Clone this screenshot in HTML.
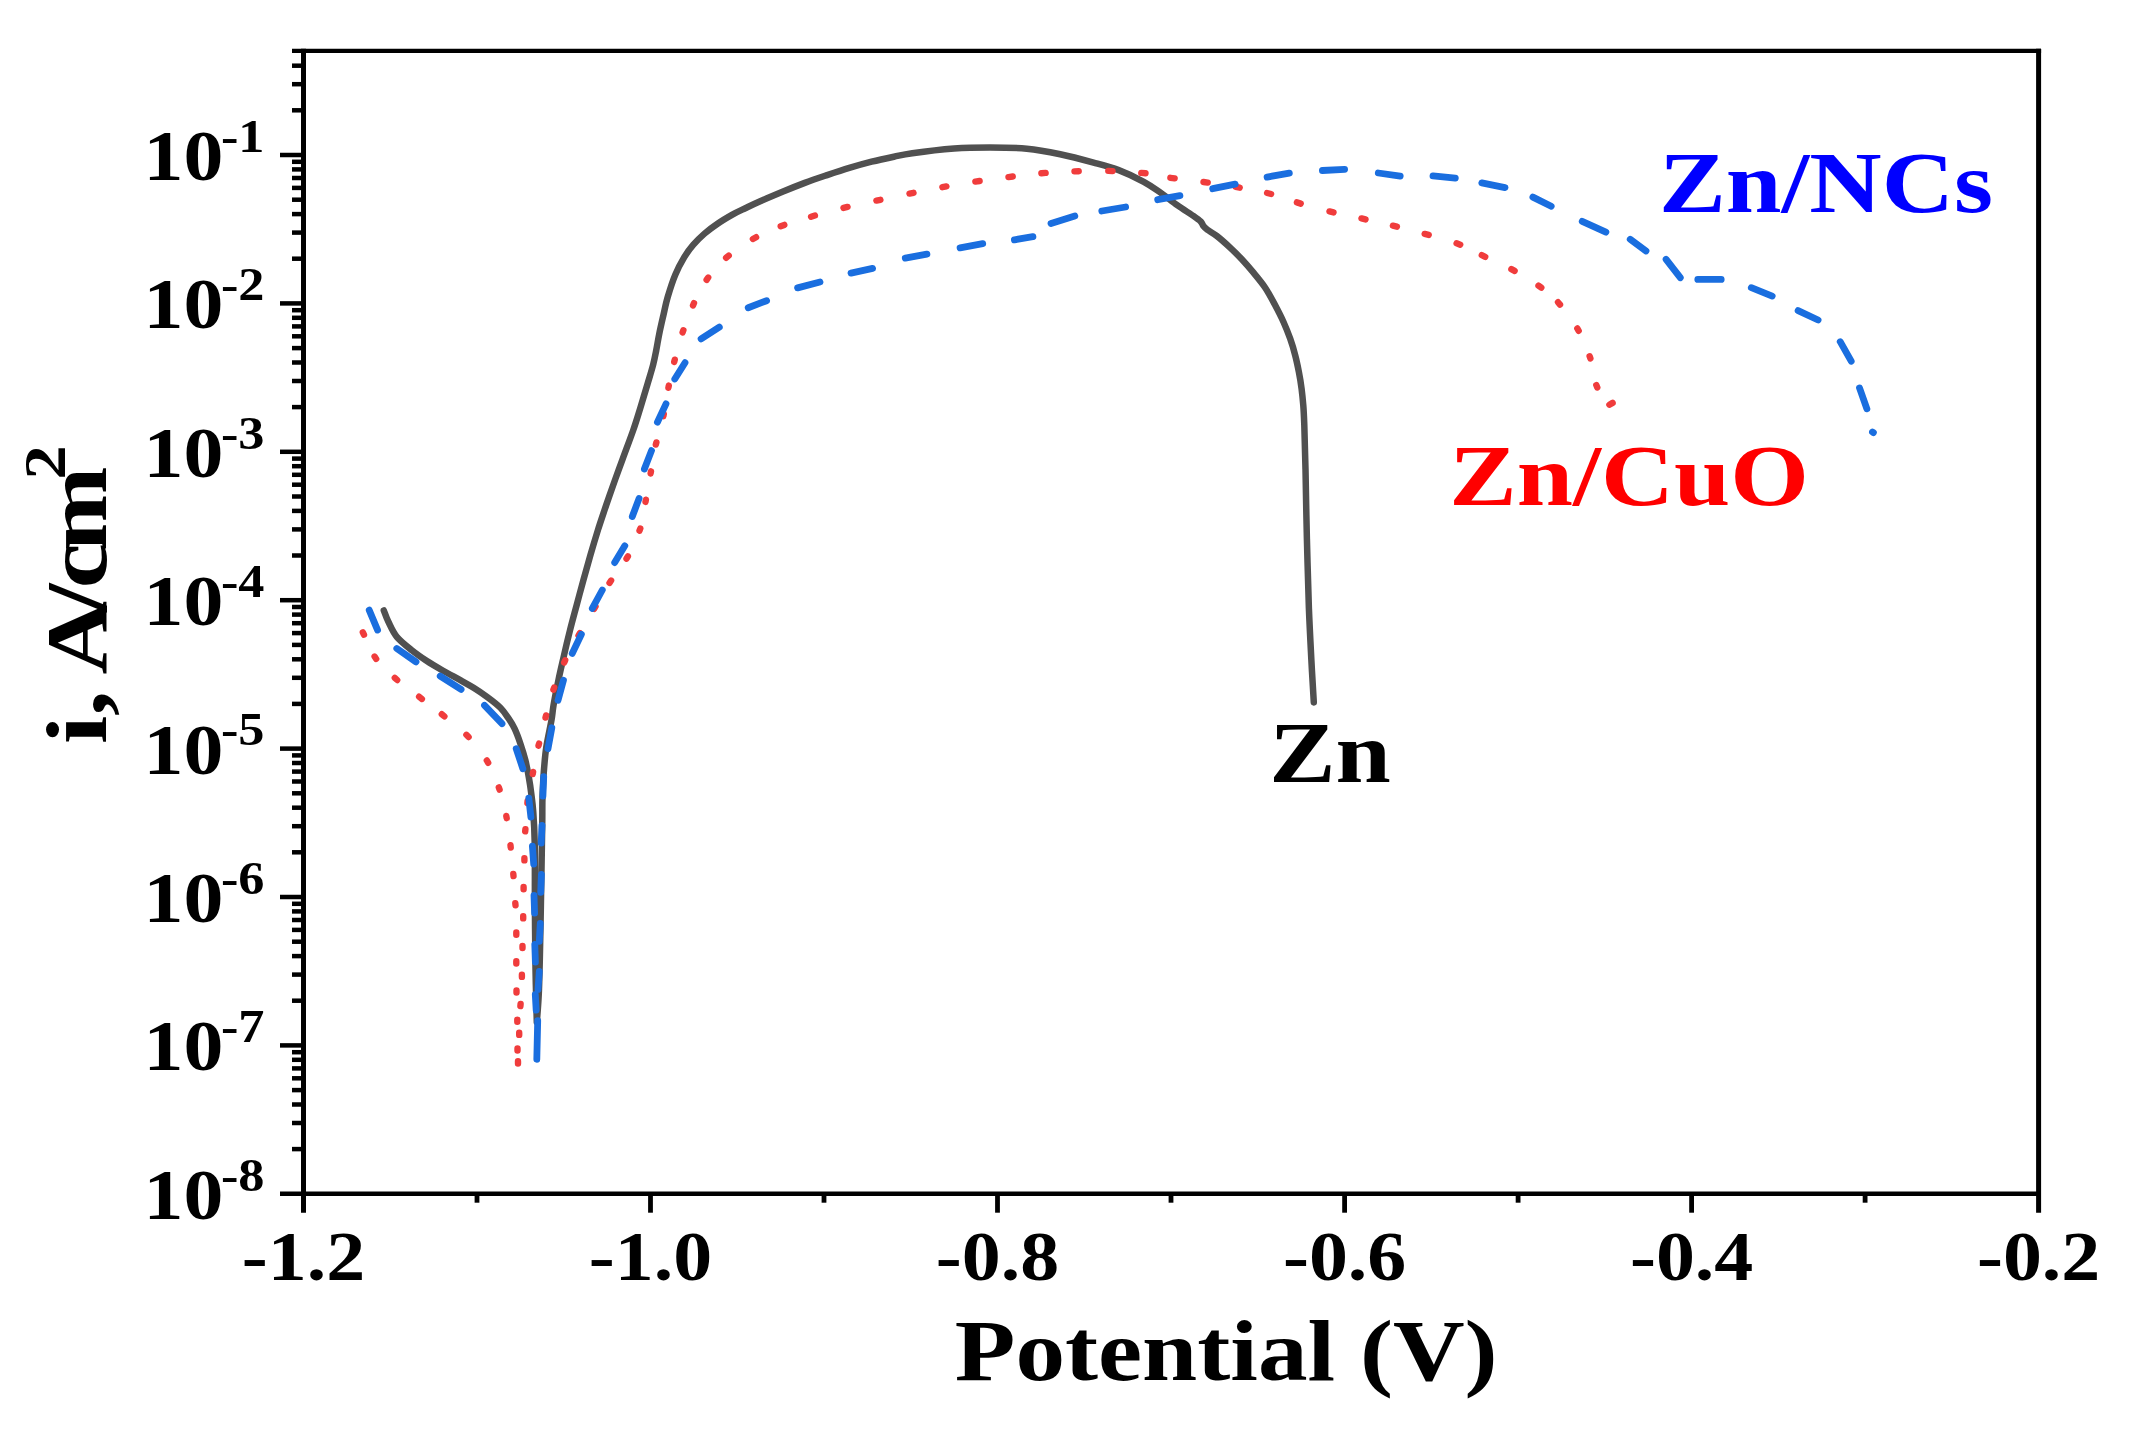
<!DOCTYPE html>
<html lang="en"><head><meta charset="utf-8"><title>Polarization curves</title>
<style>html,body{margin:0;padding:0;background:#fff}svg{display:block}text{font-family:"Liberation Serif","Times New Roman",serif;font-weight:bold}</style></head><body>
<svg width="2155" height="1437" viewBox="0 0 2155 1437">
<rect width="2155" height="1437" fill="#fff"/>
<g stroke="#000" fill="none" stroke-linecap="butt">
<line x1="303.5" y1="48.8" x2="303.5" y2="1212.7" stroke-width="5"/>
<line x1="2038.6" y1="48.8" x2="2038.6" y2="1212.7" stroke-width="5"/>
<line x1="292.0" y1="50.8" x2="2041.1" y2="50.8" stroke-width="4.3"/>
<line x1="280.0" y1="1193.7" x2="2040.9" y2="1193.7" stroke-width="4.6"/>
<line x1="650.5" y1="1193.7" x2="650.5" y2="1212.7" stroke-width="4.8"/>
<line x1="997.5" y1="1193.7" x2="997.5" y2="1212.7" stroke-width="4.8"/>
<line x1="1344.6" y1="1193.7" x2="1344.6" y2="1212.7" stroke-width="4.8"/>
<line x1="1691.6" y1="1193.7" x2="1691.6" y2="1212.7" stroke-width="4.8"/>
<line x1="477.0" y1="1193.7" x2="477.0" y2="1202.7" stroke-width="4.8"/>
<line x1="824.0" y1="1193.7" x2="824.0" y2="1202.7" stroke-width="4.8"/>
<line x1="1171.0" y1="1193.7" x2="1171.0" y2="1202.7" stroke-width="4.8"/>
<line x1="1518.1" y1="1193.7" x2="1518.1" y2="1202.7" stroke-width="4.8"/>
<line x1="1865.1" y1="1193.7" x2="1865.1" y2="1202.7" stroke-width="4.8"/>
<line x1="280.0" y1="155.0" x2="303.5" y2="155.0" stroke-width="4.5"/>
<line x1="280.0" y1="303.4" x2="303.5" y2="303.4" stroke-width="4.5"/>
<line x1="280.0" y1="451.8" x2="303.5" y2="451.8" stroke-width="4.5"/>
<line x1="280.0" y1="600.2" x2="303.5" y2="600.2" stroke-width="4.5"/>
<line x1="280.0" y1="748.6" x2="303.5" y2="748.6" stroke-width="4.5"/>
<line x1="280.0" y1="897.0" x2="303.5" y2="897.0" stroke-width="4.5"/>
<line x1="280.0" y1="1045.4" x2="303.5" y2="1045.4" stroke-width="4.5"/>
<line x1="292.0" y1="110.3" x2="303.5" y2="110.3" stroke-width="4.5"/>
<line x1="292.0" y1="84.2" x2="303.5" y2="84.2" stroke-width="4.5"/>
<line x1="292.0" y1="65.7" x2="303.5" y2="65.7" stroke-width="4.5"/>
<line x1="292.0" y1="258.7" x2="303.5" y2="258.7" stroke-width="4.5"/>
<line x1="292.0" y1="232.6" x2="303.5" y2="232.6" stroke-width="4.5"/>
<line x1="292.0" y1="214.1" x2="303.5" y2="214.1" stroke-width="4.5"/>
<line x1="292.0" y1="199.7" x2="303.5" y2="199.7" stroke-width="4.5"/>
<line x1="292.0" y1="187.9" x2="303.5" y2="187.9" stroke-width="4.5"/>
<line x1="292.0" y1="178.0" x2="303.5" y2="178.0" stroke-width="4.5"/>
<line x1="292.0" y1="169.4" x2="303.5" y2="169.4" stroke-width="4.5"/>
<line x1="292.0" y1="161.8" x2="303.5" y2="161.8" stroke-width="4.5"/>
<line x1="292.0" y1="407.1" x2="303.5" y2="407.1" stroke-width="4.5"/>
<line x1="292.0" y1="381.0" x2="303.5" y2="381.0" stroke-width="4.5"/>
<line x1="292.0" y1="362.5" x2="303.5" y2="362.5" stroke-width="4.5"/>
<line x1="292.0" y1="348.1" x2="303.5" y2="348.1" stroke-width="4.5"/>
<line x1="292.0" y1="336.3" x2="303.5" y2="336.3" stroke-width="4.5"/>
<line x1="292.0" y1="326.4" x2="303.5" y2="326.4" stroke-width="4.5"/>
<line x1="292.0" y1="317.8" x2="303.5" y2="317.8" stroke-width="4.5"/>
<line x1="292.0" y1="310.2" x2="303.5" y2="310.2" stroke-width="4.5"/>
<line x1="292.0" y1="555.5" x2="303.5" y2="555.5" stroke-width="4.5"/>
<line x1="292.0" y1="529.4" x2="303.5" y2="529.4" stroke-width="4.5"/>
<line x1="292.0" y1="510.9" x2="303.5" y2="510.9" stroke-width="4.5"/>
<line x1="292.0" y1="496.5" x2="303.5" y2="496.5" stroke-width="4.5"/>
<line x1="292.0" y1="484.7" x2="303.5" y2="484.7" stroke-width="4.5"/>
<line x1="292.0" y1="474.8" x2="303.5" y2="474.8" stroke-width="4.5"/>
<line x1="292.0" y1="466.2" x2="303.5" y2="466.2" stroke-width="4.5"/>
<line x1="292.0" y1="458.6" x2="303.5" y2="458.6" stroke-width="4.5"/>
<line x1="292.0" y1="703.9" x2="303.5" y2="703.9" stroke-width="4.5"/>
<line x1="292.0" y1="677.8" x2="303.5" y2="677.8" stroke-width="4.5"/>
<line x1="292.0" y1="659.3" x2="303.5" y2="659.3" stroke-width="4.5"/>
<line x1="292.0" y1="644.9" x2="303.5" y2="644.9" stroke-width="4.5"/>
<line x1="292.0" y1="633.1" x2="303.5" y2="633.1" stroke-width="4.5"/>
<line x1="292.0" y1="623.2" x2="303.5" y2="623.2" stroke-width="4.5"/>
<line x1="292.0" y1="614.6" x2="303.5" y2="614.6" stroke-width="4.5"/>
<line x1="292.0" y1="607.0" x2="303.5" y2="607.0" stroke-width="4.5"/>
<line x1="292.0" y1="852.3" x2="303.5" y2="852.3" stroke-width="4.5"/>
<line x1="292.0" y1="826.2" x2="303.5" y2="826.2" stroke-width="4.5"/>
<line x1="292.0" y1="807.7" x2="303.5" y2="807.7" stroke-width="4.5"/>
<line x1="292.0" y1="793.3" x2="303.5" y2="793.3" stroke-width="4.5"/>
<line x1="292.0" y1="781.5" x2="303.5" y2="781.5" stroke-width="4.5"/>
<line x1="292.0" y1="771.6" x2="303.5" y2="771.6" stroke-width="4.5"/>
<line x1="292.0" y1="763.0" x2="303.5" y2="763.0" stroke-width="4.5"/>
<line x1="292.0" y1="755.4" x2="303.5" y2="755.4" stroke-width="4.5"/>
<line x1="292.0" y1="1000.7" x2="303.5" y2="1000.7" stroke-width="4.5"/>
<line x1="292.0" y1="974.6" x2="303.5" y2="974.6" stroke-width="4.5"/>
<line x1="292.0" y1="956.1" x2="303.5" y2="956.1" stroke-width="4.5"/>
<line x1="292.0" y1="941.7" x2="303.5" y2="941.7" stroke-width="4.5"/>
<line x1="292.0" y1="929.9" x2="303.5" y2="929.9" stroke-width="4.5"/>
<line x1="292.0" y1="920.0" x2="303.5" y2="920.0" stroke-width="4.5"/>
<line x1="292.0" y1="911.4" x2="303.5" y2="911.4" stroke-width="4.5"/>
<line x1="292.0" y1="903.8" x2="303.5" y2="903.8" stroke-width="4.5"/>
<line x1="292.0" y1="1149.1" x2="303.5" y2="1149.1" stroke-width="4.5"/>
<line x1="292.0" y1="1123.0" x2="303.5" y2="1123.0" stroke-width="4.5"/>
<line x1="292.0" y1="1104.5" x2="303.5" y2="1104.5" stroke-width="4.5"/>
<line x1="292.0" y1="1090.1" x2="303.5" y2="1090.1" stroke-width="4.5"/>
<line x1="292.0" y1="1078.3" x2="303.5" y2="1078.3" stroke-width="4.5"/>
<line x1="292.0" y1="1068.4" x2="303.5" y2="1068.4" stroke-width="4.5"/>
<line x1="292.0" y1="1059.8" x2="303.5" y2="1059.8" stroke-width="4.5"/>
<line x1="292.0" y1="1052.2" x2="303.5" y2="1052.2" stroke-width="4.5"/>
</g>
<g fill="none" stroke-linecap="round" stroke-linejoin="round">
<path d="M383.8 610.4C384.6 612.3 386.2 617.4 388.4 621.8C390.6 626.2 392.9 632.1 396.8 636.8C400.7 641.5 406.8 646.2 411.8 650.2C416.8 654.2 421.6 657.5 426.9 661.0C432.2 664.5 438.0 667.8 443.6 671.0C449.2 674.2 455.3 677.4 460.3 680.2C465.3 683.0 469.2 685.0 473.6 687.8C478.1 690.6 482.5 693.6 487.0 696.9C491.5 700.2 496.8 704.2 500.4 707.8C504.0 711.4 506.3 715.2 508.7 718.7C511.1 722.2 512.6 724.5 514.6 728.7C516.6 732.9 518.6 738.4 520.4 743.7C522.2 749.0 524.0 754.8 525.4 760.4C526.8 766.0 527.8 771.5 528.8 777.1C529.8 782.7 530.6 788.1 531.3 793.8C532.0 799.5 532.6 803.2 533.2 811.3C533.8 819.4 534.4 827.0 534.7 842.6C535.0 858.2 534.8 884.1 534.9 905.0C535.0 925.9 535.2 948.5 535.5 968.0C535.8 987.5 536.6 1013.0 536.8 1022.0M536.8 1022.0C537.2 1016.5 538.4 1004.8 539.0 988.8C539.6 972.8 540.1 946.9 540.5 926.0C540.9 905.1 541.3 881.2 541.6 863.5C541.9 845.8 542.1 831.0 542.3 820.0C542.4 809.0 542.2 805.2 542.5 797.2C542.8 789.2 543.2 780.5 543.8 772.1C544.4 763.8 545.0 755.8 546.3 747.1C547.6 738.4 550.3 726.9 551.5 720.0C552.7 713.1 552.4 712.1 553.5 705.5C554.6 698.9 556.6 688.8 558.4 680.4C560.1 672.0 562.1 663.8 564.0 655.4C565.9 647.0 567.9 638.6 570.0 630.3C572.1 621.9 574.4 613.6 576.6 605.3C578.8 596.9 581.1 588.6 583.4 580.2C585.7 571.9 588.0 563.6 590.4 555.2C592.8 546.9 595.3 538.5 597.9 530.1C600.5 521.8 603.4 513.5 606.2 505.1C609.1 496.8 612.2 487.8 615.0 480.0C617.8 472.2 619.8 466.9 622.8 458.6C625.8 450.3 630.3 438.5 633.2 430.2C636.1 421.9 637.7 416.4 640.1 408.7C642.5 400.9 645.4 391.1 647.6 383.7C649.8 376.3 651.8 370.0 653.2 364.5C654.6 359.0 655.2 355.6 656.2 350.5C657.2 345.4 658.1 339.5 659.3 333.6C660.5 327.7 662.0 321.3 663.4 315.2C664.8 309.1 665.8 303.5 667.8 296.8C669.8 290.1 672.5 281.4 675.3 274.8C678.0 268.2 681.3 262.2 684.3 257.2C687.3 252.2 690.0 248.6 693.4 244.7C696.8 240.8 700.4 237.1 704.5 233.6C708.6 230.1 713.2 226.7 717.9 223.5C722.5 220.3 727.8 217.2 732.4 214.6C737.0 212.0 741.2 210.2 745.8 208.0C750.4 205.8 754.1 204.0 760.2 201.3C766.3 198.6 775.1 194.9 782.5 191.8C789.9 188.7 797.4 185.7 804.8 182.9C812.2 180.1 819.7 177.6 827.1 175.1C834.5 172.6 841.9 170.1 849.3 167.9C856.7 165.7 864.2 163.6 871.6 161.7C879.0 159.8 887.1 158.1 893.9 156.7C900.7 155.3 902.3 154.6 912.3 153.2C922.3 151.8 941.1 149.5 954.1 148.5C967.1 147.5 977.9 147.4 990.0 147.4C1002.1 147.4 1015.1 147.6 1026.8 148.7C1038.5 149.8 1049.1 151.9 1060.2 154.2C1071.3 156.5 1083.8 159.9 1093.6 162.6C1103.3 165.2 1110.3 166.9 1118.7 170.1C1127.1 173.3 1136.8 178.0 1143.8 181.8C1150.8 185.6 1154.9 188.8 1160.5 192.7C1166.1 196.6 1171.7 201.3 1177.2 205.2C1182.7 209.1 1189.5 213.2 1193.4 215.9C1197.3 218.6 1199.1 219.9 1200.8 221.6C1202.5 223.3 1202.3 224.6 1203.4 226.0C1204.5 227.4 1205.3 228.2 1207.5 229.8C1209.7 231.5 1212.9 232.9 1216.7 235.9C1220.5 238.9 1225.9 243.7 1230.1 247.6C1234.3 251.5 1237.9 255.1 1241.8 259.3C1245.7 263.5 1249.6 268.0 1253.5 272.7C1257.4 277.4 1261.6 282.3 1265.2 287.7C1268.8 293.1 1272.2 299.6 1275.2 305.3C1278.2 311.0 1281.0 316.4 1283.5 322.0C1286.0 327.6 1288.2 333.1 1290.2 338.7C1292.2 344.3 1293.8 349.8 1295.2 355.4C1296.7 361.0 1297.8 366.5 1298.9 372.1C1300.0 377.7 1300.9 383.2 1301.6 388.8C1302.3 394.4 1302.8 399.5 1303.3 405.5C1303.8 411.5 1303.9 414.4 1304.3 425.0C1304.7 435.6 1305.1 450.2 1305.5 469.2C1305.9 488.2 1306.3 515.6 1306.9 538.8C1307.5 562.0 1308.2 588.1 1308.9 608.4C1309.7 628.7 1310.6 644.9 1311.4 660.6C1312.2 676.3 1313.4 695.4 1313.8 702.4" stroke="#505050" stroke-width="6.5"/>
<path d="M362.8 632.3 L364.0 634.7M374.6 656.5 L376.2 658.9M394.8 677.8 L397.2 680.0M419.1 696.7 L421.9 698.9M441.8 714.2 L444.4 716.4M466.4 734.8 L468.6 737.0M486.8 760.4 L488.2 762.8M498.8 787.4 L499.6 789.6M506.3 816.0 L506.7 818.2M510.5 845.3 L510.7 847.5M513.3 873.9 L513.5 876.1M515.3 903.1 L515.5 905.3M516.3 932.5 L516.3 934.7M516.3 961.3 L516.3 963.5M516.5 990.4 L516.5 992.6M517.3 1019.6 L517.3 1021.8M517.5 1048.4 L517.5 1050.6M518.0 1063.5 L518.0 1061.3M519.2 1034.9 L519.2 1032.7M520.4 1006.1 L520.6 1003.9M521.9 976.9 L521.9 974.7M522.5 948.1 L522.5 945.9M523.2 918.4 L523.2 916.2M523.6 889.2 L523.6 887.0M524.4 860.4 L524.4 858.2M525.2 831.4 L525.4 829.2M527.4 803.1 L527.6 800.9M532.7 774.1 L533.1 771.9M538.5 745.7 L539.1 743.5M545.5 717.6 L546.1 715.4M553.4 689.7 L554.2 687.5M564.2 662.6 L565.2 660.2M578.5 635.5 L579.9 633.1M594.1 608.8 L595.5 606.4M609.5 582.9 L611.1 580.5M626.5 558.7 L627.9 556.3M639.5 530.7 L640.3 528.5M645.5 501.9 L645.9 499.7M650.6 473.5 L651.0 471.3M655.8 444.6 L656.4 442.4M663.4 416.2 L663.8 414.0M668.4 387.8 L668.8 385.6M674.2 361.9 L674.8 359.7M682.6 332.4 L683.4 330.2M693.0 305.5 L694.0 303.1M706.6 279.9 L708.2 277.5M726.1 257.8 L728.7 255.6M752.9 239.0 L756.1 237.2M780.7 226.3 L784.3 224.9M811.1 216.7 L814.9 215.5M843.5 207.9 L847.5 206.9M876.4 200.6 L880.4 199.8M909.5 193.6 L913.5 192.8M942.4 187.2 L946.4 186.4M975.4 181.6 L979.6 181.0M1008.5 177.1 L1012.7 176.5M1041.4 173.3 L1045.6 172.9M1074.5 171.4 L1078.7 171.2M1108.3 170.9 L1112.5 171.1M1141.3 172.9 L1145.5 173.3M1170.4 177.8 L1174.6 178.4M1203.5 182.0 L1207.7 182.6M1235.7 186.9 L1239.7 187.7M1267.1 193.0 L1271.1 194.0M1296.9 202.4 L1300.7 203.6M1329.5 211.4 L1333.5 212.4M1361.5 218.4 L1365.5 219.4M1392.9 225.7 L1396.9 226.7M1424.7 233.9 L1428.7 234.9M1456.6 243.3 L1460.2 244.7M1481.8 255.2 L1485.2 256.8M1511.4 269.1 L1514.6 270.9M1538.5 285.7 L1541.3 287.7M1558.0 302.2 L1560.0 304.6M1577.3 328.4 L1578.7 330.8M1589.6 356.2 L1590.4 358.4M1596.3 385.1 L1597.3 387.5M1609.4 404.7 L1612.6 402.9" stroke="#f03c3c" stroke-width="6.4"/>
<path d="M369.2 610.1 L377.6 630.1M396.8 648.5 L416.0 661.9M440.2 676.1 L461.1 689.4M484.5 705.3 L502.0 723.7M516.2 748.7 L522.9 768.8M528.8 798.2 L530.9 817.0M532.4 846.2 L533.7 864.1M534.0 895.3 L534.6 913.1M534.8 944.4 L535.4 962.2M535.3 994.5 L536.2 1010.2M537.7 1020.6 L536.8 1059.3M539.3 971.5 L538.0 989.4M540.3 923.5 L539.3 941.3M541.4 874.4 L540.7 892.3M542.0 825.4 L541.2 843.2M543.7 776.6 L542.9 796.1M548.0 748.7 L551.8 727.8M558.0 700.3 L563.5 680.2M572.2 653.5 L581.4 634.3M592.3 608.4 L602.3 590.0M614.7 562.6 L624.8 545.8M632.3 516.5 L639.1 498.4M644.4 469.0 L651.5 450.6M657.4 422.2 L666.0 403.9M674.8 379.0 L685.0 362.7M701.1 338.8 L719.3 327.2M748.2 307.7 L766.6 300.7M797.6 287.9 L820.0 282.0M851.0 273.1 L872.6 268.4M905.3 258.1 L926.9 254.2M960.1 247.8 L982.7 243.7M1014.4 239.8 L1032.9 236.6M1051.0 223.5 L1074.8 216.1M1101.8 211.0 L1125.6 207.0M1157.7 199.7 L1179.9 195.7M1212.7 188.7 L1235.2 184.1M1267.1 177.1 L1289.3 173.1M1322.4 170.5 L1344.6 169.4M1378.3 173.0 L1400.2 176.1M1433.0 175.9 L1455.3 178.2M1481.8 182.9 L1505.0 187.6M1532.9 197.1 L1551.2 206.3M1582.2 221.4 L1605.9 232.1M1630.2 239.3 L1646.0 251.0M1666.1 259.3 L1680.3 277.7M1697.8 279.4 L1721.2 279.4M1751.3 287.7 L1772.2 296.1M1798.1 310.6 L1818.1 320.0M1840.2 341.7 L1851.2 361.2M1859.5 387.9 L1866.9 408.8M1872.5 432.0 L1873.4 432.6" stroke="#1a6edf" stroke-width="6.8"/>
</g>
<text transform="translate(303.5,1279.8) scale(1.100,1)" font-size="70.8" fill="#000" text-anchor="middle">-1.2</text>
<text transform="translate(650.5,1279.8) scale(1.100,1)" font-size="70.8" fill="#000" text-anchor="middle">-1.0</text>
<text transform="translate(997.5,1279.8) scale(1.100,1)" font-size="70.8" fill="#000" text-anchor="middle">-0.8</text>
<text transform="translate(1344.6,1279.8) scale(1.100,1)" font-size="70.8" fill="#000" text-anchor="middle">-0.6</text>
<text transform="translate(1691.6,1279.8) scale(1.100,1)" font-size="70.8" fill="#000" text-anchor="middle">-0.4</text>
<text transform="translate(2038.6,1279.8) scale(1.100,1)" font-size="70.8" fill="#000" text-anchor="middle">-0.2</text>
<text transform="translate(143.5,180.0) scale(1.125,1)" font-size="71">10<tspan font-size="46.5" dy="-28.3" dx="-2.2">-1</tspan></text>
<text transform="translate(143.5,328.4) scale(1.125,1)" font-size="71">10<tspan font-size="46.5" dy="-28.3" dx="-2.2">-2</tspan></text>
<text transform="translate(143.5,476.8) scale(1.125,1)" font-size="71">10<tspan font-size="46.5" dy="-28.3" dx="-2.2">-3</tspan></text>
<text transform="translate(143.5,625.2) scale(1.125,1)" font-size="71">10<tspan font-size="46.5" dy="-28.3" dx="-2.2">-4</tspan></text>
<text transform="translate(143.5,773.6) scale(1.125,1)" font-size="71">10<tspan font-size="46.5" dy="-28.3" dx="-2.2">-5</tspan></text>
<text transform="translate(143.5,922.0) scale(1.125,1)" font-size="71">10<tspan font-size="46.5" dy="-28.3" dx="-2.2">-6</tspan></text>
<text transform="translate(143.5,1070.4) scale(1.125,1)" font-size="71">10<tspan font-size="46.5" dy="-28.3" dx="-2.2">-7</tspan></text>
<text transform="translate(143.5,1218.8) scale(1.125,1)" font-size="71">10<tspan font-size="46.5" dy="-28.3" dx="-2.2">-8</tspan></text>
<text transform="translate(954.8,1380.2) scale(1.154,1)" font-size="86" fill="#000">Potential (V)</text>
<text transform="translate(105.9,745) rotate(-90) scale(1.17,1)" font-size="87" x="0.85 24.7 45 60.3 113.8 134 165.7">i, A/cm<tspan font-size="59" x="226.8" dy="-41">2</tspan></text>
<text transform="translate(1269.3,781.8) scale(1.156,1)" font-size="86" fill="#000">Zn</text>
<text transform="translate(1449.3,505.1) scale(1.176,1)" font-size="86" fill="#ff0000">Zn/CuO</text>
<text transform="translate(1659.0,212.3) scale(1.165,1)" font-size="86" fill="#0000ff">Zn/NCs</text>
</svg></body></html>
